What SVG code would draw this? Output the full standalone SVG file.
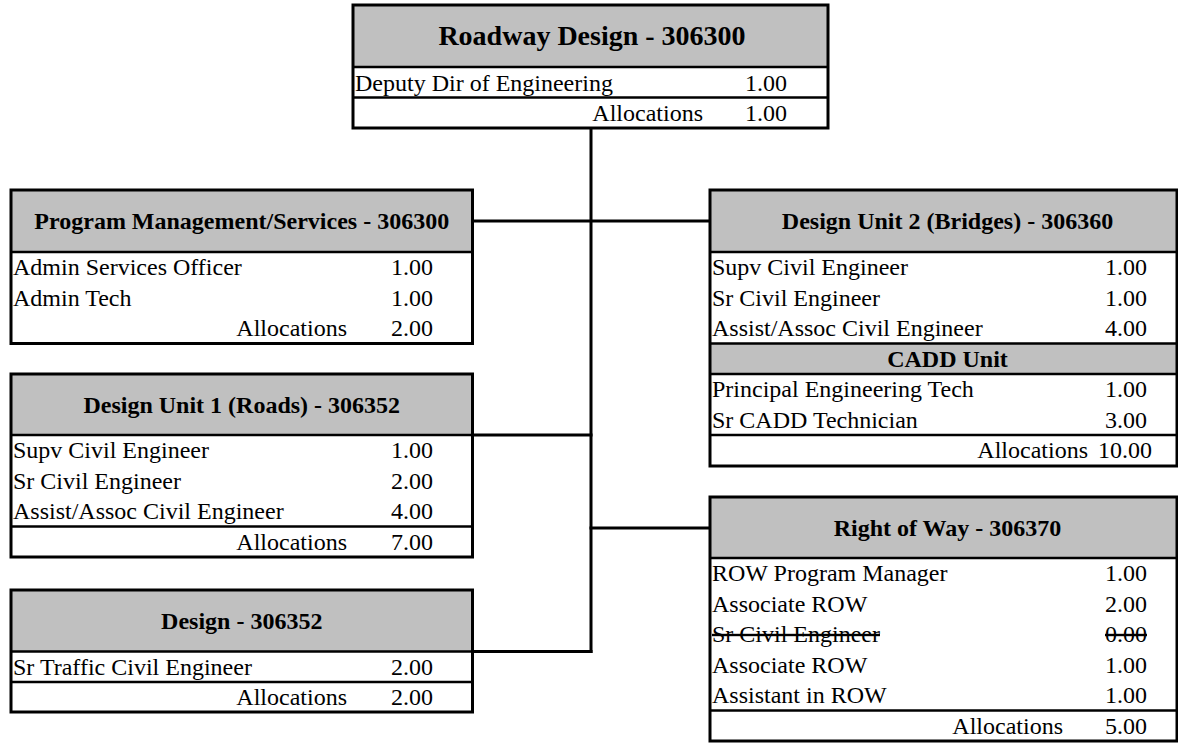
<svg xmlns="http://www.w3.org/2000/svg" width="1178" height="745" viewBox="0 0 1178 745">
<style>
.bg{fill:#ffffff}
.box{fill:none;stroke:#000;stroke-width:3}
.hdr{fill:#c0c0c0}
.sep{stroke:#000;stroke-width:2.5}
.conn{fill:none;stroke:#000;stroke-width:3;stroke-linecap:square}
text{font-family:"Liberation Serif","Times New Roman",serif;font-size:24px;fill:#000}
.t{font-weight:bold;text-anchor:middle}
.n{text-anchor:end}
.s{text-decoration:line-through}
</style>
<rect x="0" y="0" width="1178" height="745" fill="#ffffff"/>
<g id="connectors">
<path class="conn" d="M591 128 V651.5"/>
<path class="conn" d="M472.5 221 H710"/>
<path class="conn" d="M472.5 435 H591"/>
<path class="conn" d="M591 528 H710"/>
<path class="conn" d="M472.5 651.5 H591"/>
</g>
<g id="roadway-design">
<rect class="bg" x="353" y="5" width="475" height="123"/>
<rect class="hdr" x="353" y="5" width="475" height="62"/>
<line class="sep" x1="353" y1="67" x2="828" y2="67"/>
<line class="sep" x1="353" y1="97.5" x2="828" y2="97.5"/>
<rect class="box" x="353" y="5" width="475" height="123"/>
<text class="t" x="592" y="45" style="font-size:28px">Roadway Design - 306300</text>
<text x="355" y="91">Deputy Dir of Engineering</text>
<text class="n" x="787" y="91">1.00</text>
<text class="n" x="703" y="121">Allocations</text>
<text class="n" x="787" y="121">1.00</text>
</g>
<g id="program-management">
<rect class="bg" x="11" y="190" width="461.5" height="153.5"/>
<rect class="hdr" x="11" y="190" width="461.5" height="62"/>
<line class="sep" x1="11" y1="252" x2="472.5" y2="252"/>
<rect class="box" x="11" y="190" width="461.5" height="153.5"/>
<text class="t" x="241.75" y="229">Program Management/Services - 306300</text>
<text x="13" y="275">Admin Services Officer</text>
<text class="n" x="433" y="275">1.00</text>
<text x="13" y="305.5">Admin Tech</text>
<text class="n" x="433" y="305.5">1.00</text>
<text class="n" x="347" y="336">Allocations</text>
<text class="n" x="433" y="336">2.00</text>
</g>
<g id="design-unit-1">
<rect class="bg" x="11" y="374" width="461.5" height="183"/>
<rect class="hdr" x="11" y="374" width="461.5" height="61"/>
<line class="sep" x1="11" y1="435" x2="472.5" y2="435"/>
<line class="sep" x1="11" y1="526.5" x2="472.5" y2="526.5"/>
<rect class="box" x="11" y="374" width="461.5" height="183"/>
<text class="t" x="241.75" y="413">Design Unit 1 (Roads) - 306352</text>
<text x="13" y="458">Supv Civil Engineer</text>
<text class="n" x="433" y="458">1.00</text>
<text x="13" y="488.5">Sr Civil Engineer</text>
<text class="n" x="433" y="488.5">2.00</text>
<text x="13" y="519">Assist/Assoc Civil Engineer</text>
<text class="n" x="433" y="519">4.00</text>
<text class="n" x="347" y="549.5">Allocations</text>
<text class="n" x="433" y="549.5">7.00</text>
</g>
<g id="design">
<rect class="bg" x="11" y="590" width="461.5" height="122"/>
<rect class="hdr" x="11" y="590" width="461.5" height="61.5"/>
<line class="sep" x1="11" y1="651.5" x2="472.5" y2="651.5"/>
<line class="sep" x1="11" y1="682" x2="472.5" y2="682"/>
<rect class="box" x="11" y="590" width="461.5" height="122"/>
<text class="t" x="241.75" y="629">Design - 306352</text>
<text x="13" y="674.5">Sr Traffic Civil Engineer</text>
<text class="n" x="433" y="674.5">2.00</text>
<text class="n" x="347" y="705">Allocations</text>
<text class="n" x="433" y="705">2.00</text>
</g>
<g id="design-unit-2">
<rect class="bg" x="710" y="190" width="467" height="276"/>
<rect class="hdr" x="710" y="190" width="467" height="62"/>
<rect class="hdr" x="710" y="343.5" width="467" height="30.5"/>
<line class="sep" x1="710" y1="252" x2="1177" y2="252"/>
<line class="sep" x1="710" y1="343.5" x2="1177" y2="343.5"/>
<line class="sep" x1="710" y1="374" x2="1177" y2="374"/>
<line class="sep" x1="710" y1="435" x2="1177" y2="435"/>
<rect class="box" x="710" y="190" width="467" height="276"/>
<text class="t" x="947.5" y="229">Design Unit 2 (Bridges) - 306360</text>
<text x="712" y="275">Supv Civil Engineer</text>
<text class="n" x="1147" y="275">1.00</text>
<text x="712" y="305.5">Sr Civil Engineer</text>
<text class="n" x="1147" y="305.5">1.00</text>
<text x="712" y="336">Assist/Assoc Civil Engineer</text>
<text class="n" x="1147" y="336">4.00</text>
<text class="t" x="947.5" y="367">CADD Unit</text>
<text x="712" y="397">Principal Engineering Tech</text>
<text class="n" x="1147" y="397">1.00</text>
<text x="712" y="427.5">Sr CADD Technician</text>
<text class="n" x="1147" y="427.5">3.00</text>
<text class="n" x="1088" y="458">Allocations</text>
<text class="n" x="1152" y="458">10.00</text>
</g>
<g id="right-of-way">
<rect class="bg" x="710" y="497" width="467" height="244"/>
<rect class="hdr" x="710" y="497" width="467" height="61"/>
<line class="sep" x1="710" y1="558" x2="1177" y2="558"/>
<line class="sep" x1="710" y1="710.5" x2="1177" y2="710.5"/>
<rect class="box" x="710" y="497" width="467" height="244"/>
<text class="t" x="947.5" y="536">Right of Way - 306370</text>
<text x="712" y="581">ROW Program Manager</text>
<text class="n" x="1147" y="581">1.00</text>
<text x="712" y="611.5">Associate ROW</text>
<text class="n" x="1147" y="611.5">2.00</text>
<text class="s" x="712" y="642">Sr Civil Engineer</text>
<text class="n s" x="1147" y="642">0.00</text>
<text x="712" y="672.5">Associate ROW</text>
<text class="n" x="1147" y="672.5">1.00</text>
<text x="712" y="703">Assistant in ROW</text>
<text class="n" x="1147" y="703">1.00</text>
<text class="n" x="1063" y="733.5">Allocations</text>
<text class="n" x="1147" y="733.5">5.00</text>
</g>
</svg>
